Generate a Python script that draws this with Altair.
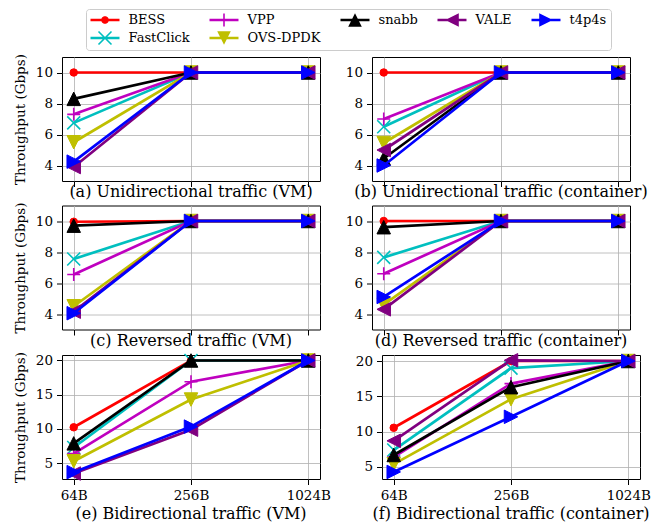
import math
import altair as alt
import pandas as pd

categories = ["64B", "256B", "1024B"]
series = ["BESS", "FastClick", "VPP", "OVS-DPDK", "snabb", "VALE", "t4p4s"]
colors = ["#ff0000", "#00bfbf", "#bf00bf", "#bfbf00", "#000000", "#800080", "#0000ff"]
markers = ["circle", "x", "plus", "tri_down", "tri_up", "tri_left", "tri_right"]

uni_vm = {"BESS": [10, 10, 10], "FastClick": [6.75, 10, 10], "VPP": [7.3, 10, 10],
          "OVS-DPDK": [5.5, 10, 10], "snabb": [8.3, 10, 10], "VALE": [3.9, 10, 10],
          "t4p4s": [4.25, 10, 10]}
uni_ct = {"BESS": [10, 10, 10], "FastClick": [6.5, 10, 10], "VPP": [7.0, 10, 10],
          "OVS-DPDK": [5.45, 10, 10], "snabb": [4.45, 10, 10], "VALE": [5.0, 10, 10],
          "t4p4s": [4.0, 10, 10]}
rev_vm = {"BESS": [9.95, 10, 10], "FastClick": [7.55, 10, 10], "VPP": [6.55, 10, 10],
          "OVS-DPDK": [4.5, 10, 10], "snabb": [9.7, 10, 10], "VALE": [4.15, 10, 10],
          "t4p4s": [4.05, 10, 10]}
rev_ct = {"BESS": [10, 10, 10], "FastClick": [7.65, 10, 10], "VPP": [6.6, 10, 10],
          "OVS-DPDK": [4.6, 10, 10], "snabb": [9.6, 10, 10], "VALE": [4.3, 10, 10],
          "t4p4s": [5.1, 10, 10]}
bi_vm = {"BESS": [10.25, 20, 20], "FastClick": [7.3, 20, 20], "VPP": [6.4, 16.9, 20],
         "OVS-DPDK": [5.3, 14.3, 20], "snabb": [7.9, 20, 20], "VALE": [3.5, 9.9, 20],
         "t4p4s": [3.7, 10.35, 20]}
bi_ct = {"BESS": [10.55, 20, 20], "FastClick": [7.4, 19.0, 20], "VPP": [6.4, 16.8, 20],
         "OVS-DPDK": [5.4, 14.6, 20], "snabb": [6.7, 16.3, 20], "VALE": [8.7, 20.1, 20],
         "t4p4s": [4.3, 12.1, 20]}

panel_titles = ["(a) Unidirectional traffic (VM)", "(b) Unidirectional traffic (container)",
                "(c) Reversed traffic (VM)", "(d) Reversed traffic (container)",
                "(e) Bidirectional traffic (VM)", "(f) Bidirectional traffic (container)"]
panel_data = [uni_vm, uni_ct, rev_vm, rev_ct, bi_vm, bi_ct]
y_domains = [[3, 11], [3, 11], [3, 11], [3, 11], [2.7, 20.8], [3.3, 20.85]]
y_ticks = [[4, 6, 8, 10]] * 4 + [[5, 10, 15, 20]] * 2

legend_order = ["BESS", "VPP", "snabb", "VALE", "t4p4s", "FastClick", "OVS-DPDK"]

FONT = "DejaVu Serif"
W, H = 258, 124


# ---------- marker geometry (styling) ----------
def poly(pts):
    area = sum(x0 * y1 - x1 * y0 for (x0, y0), (x1, y1) in zip(pts, pts[1:] + pts[:1]))
    if area < 0:
        pts = pts[::-1]
    return "M" + "L".join(f"{x:.3f},{y:.3f}" for x, y in pts) + "Z"


def bar(x0, y0, x1, y1, hw):
    dx, dy = x1 - x0, y1 - y0
    L = math.hypot(dx, dy)
    nx, ny = -dy / L * hw, dx / L * hw
    return poly([(x0 + nx, y0 + ny), (x1 + nx, y1 + ny), (x1 - nx, y1 - ny), (x0 - nx, y0 - ny)])


def marker_path(m, cx, s, t):
    if m == "circle":
        return poly([(cx + s * math.cos(2 * math.pi * k / 24), s * math.sin(2 * math.pi * k / 24)) for k in range(24)])
    if m == "x":
        return bar(cx - s, -s, cx + s, s, t) + bar(cx - s, s, cx + s, -s, t)
    if m == "plus":
        return bar(cx - s, 0, cx + s, 0, t) + bar(cx, -s, cx, s, t)
    if m == "tri_up":
        return poly([(cx, -s), (cx + s, s), (cx - s, s)])
    if m == "tri_down":
        return poly([(cx - s, -s), (cx + s, -s), (cx, s)])
    if m == "tri_left":
        return poly([(cx - s, 0), (cx + s, -s), (cx + s, s)])
    return poly([(cx + s, 0), (cx - s, -s), (cx - s, s)])


# legend symbol: 14px box -> 1 unit = 7px
LU = 7.0
line_l, line_r = -6.5 / LU, 22.5 / LU
lcx = (line_l + line_r) / 2


def legend_path(m):
    base = poly([(line_l, -1.35 / LU), (line_r, -1.35 / LU), (line_r, 1.35 / LU), (line_l, 1.35 / LU)])
    if m == "circle":
        mk = marker_path(m, lcx, 3.8 / LU, 0)
    elif m in ("x", "plus"):
        mk = marker_path(m, lcx, 6.5 / LU, 0.8 / LU)
    else:
        mk = marker_path(m, lcx, 6.8 / LU, 0)
    return base + mk


legend_shapes = [legend_path(markers[series.index(s)]) for s in legend_order]
legend_colors = [colors[series.index(s)] for s in legend_order]

plot_shapes = {
    "x": "M-1,-1L1,1M-1,1L1,-1",
    "plus": "M-1,0L1,0M0,-1L0,1",
    "tri_up": "M0,-1L1,1L-1,1Z",
    "tri_down": "M-1,-1L1,-1L0,1Z",
    "tri_left": "M-1,0L1,-1L1,1Z",
    "tri_right": "M1,0L-1,-1L-1,1Z",
}

# ---------- long table ----------
rows = []
for p, d in enumerate(panel_data):
    for s in series:
        for c, v in zip(categories, d[s]):
            rows.append({"panel": p, "series": s, "size": c, "value": v})
df = pd.DataFrame(rows)


def make_panel(p):
    bottom = p >= 4
    left = p % 2 == 0
    xaxis = alt.Axis(title=None, labels=bottom, ticks=True, tickSize=5.5, domain=False,
                     grid=True, labelAngle=0, labelPadding=4, labelFontSize=13.5,
                     labelFont=FONT, labelColor="black")
    yaxis = alt.Axis(title="Throughput (Gbps)" if left else None, values=y_ticks[p],
                     tickSize=5.5, domain=False, grid=True, labelPadding=4,
                     labelFontSize=13.5, labelFont=FONT, labelColor="black",
                     titleFont=FONT, titleFontSize=13.5, titleFontWeight="normal",
                     titleColor="black", titlePadding=8)
    xenc = alt.X("size:O", sort=categories, scale=alt.Scale(padding=0.1), axis=xaxis)
    yenc = alt.Y("value:Q", scale=alt.Scale(domain=y_domains[p], nice=False, zero=False), axis=yaxis)
    layers = []
    for i, s in enumerate(series):
        sub = df[(df.panel == p) & (df.series == s)]
        base = alt.Chart(sub)
        layers.append(base.mark_line(color=colors[i], strokeWidth=2.7).encode(x=xenc, y=yenc))
        m = markers[i]
        if m == "circle":
            pt = base.mark_point(shape="circle", size=56, fill=colors[i], stroke=colors[i],
                                 strokeWidth=1, opacity=1, filled=True)
        elif m in ("x", "plus"):
            pt = base.mark_point(shape=plot_shapes[m], size=169, stroke=colors[i],
                                 strokeWidth=1.6, opacity=1, filled=False)
        else:
            pt = base.mark_point(shape=plot_shapes[m], size=182, fill=colors[i], stroke=colors[i],
                                 strokeWidth=1, opacity=1, filled=True)
        layers.append(pt.encode(x=xenc, y=yenc))
    if p == 0:
        leg = alt.Legend(title=None, orient="none", legendX=24, legendY=-48, direction="horizontal",
                         columns=5, symbolSize=196, symbolStrokeWidth=0, labelFont=FONT,
                         labelFontSize=13, labelOffset=24.5, columnPadding=19, rowPadding=3,
                         padding=4, strokeColor="#cccccc", fillColor="white", cornerRadius=3,
                         labelColor="black", labelLimit=0)
        legend_layer = alt.Chart(df[df.panel == p]).transform_filter("false").mark_point(
            filled=True, opacity=1).encode(
            x=xenc, y=yenc,
            color=alt.Color("series:N", scale=alt.Scale(domain=legend_order, range=legend_colors), legend=leg),
            shape=alt.Shape("series:N", scale=alt.Scale(domain=legend_order, range=legend_shapes), legend=leg),
        )
        layers.append(legend_layer)
    return alt.layer(*layers).properties(
        width=W, height=H,
        title=alt.TitleParams(panel_titles[p], orient="bottom", anchor="middle",
                              offset=4 if bottom else -3, fontSize=16, font=FONT,
                              fontWeight="normal", color="black"),
    )


rows_charts = [alt.hconcat(make_panel(2 * r), make_panel(2 * r + 1), spacing=23) for r in range(3)]
chart = alt.vconcat(*rows_charts, spacing=0.5).properties(
    padding={"left": 4, "top": 0, "right": 5, "bottom": 0}
).configure(font=FONT).configure_axis(
    labelFont=FONT, titleFont=FONT, labelColor="black", titleColor="black",
    tickColor="black", tickWidth=1, gridColor="#b0b0b0", gridWidth=0.8,
    titleFontWeight="normal",
).configure_view(stroke="black", strokeWidth=1)

chart.save("out.html", embed_options={"renderer": "svg", "actions": False})
